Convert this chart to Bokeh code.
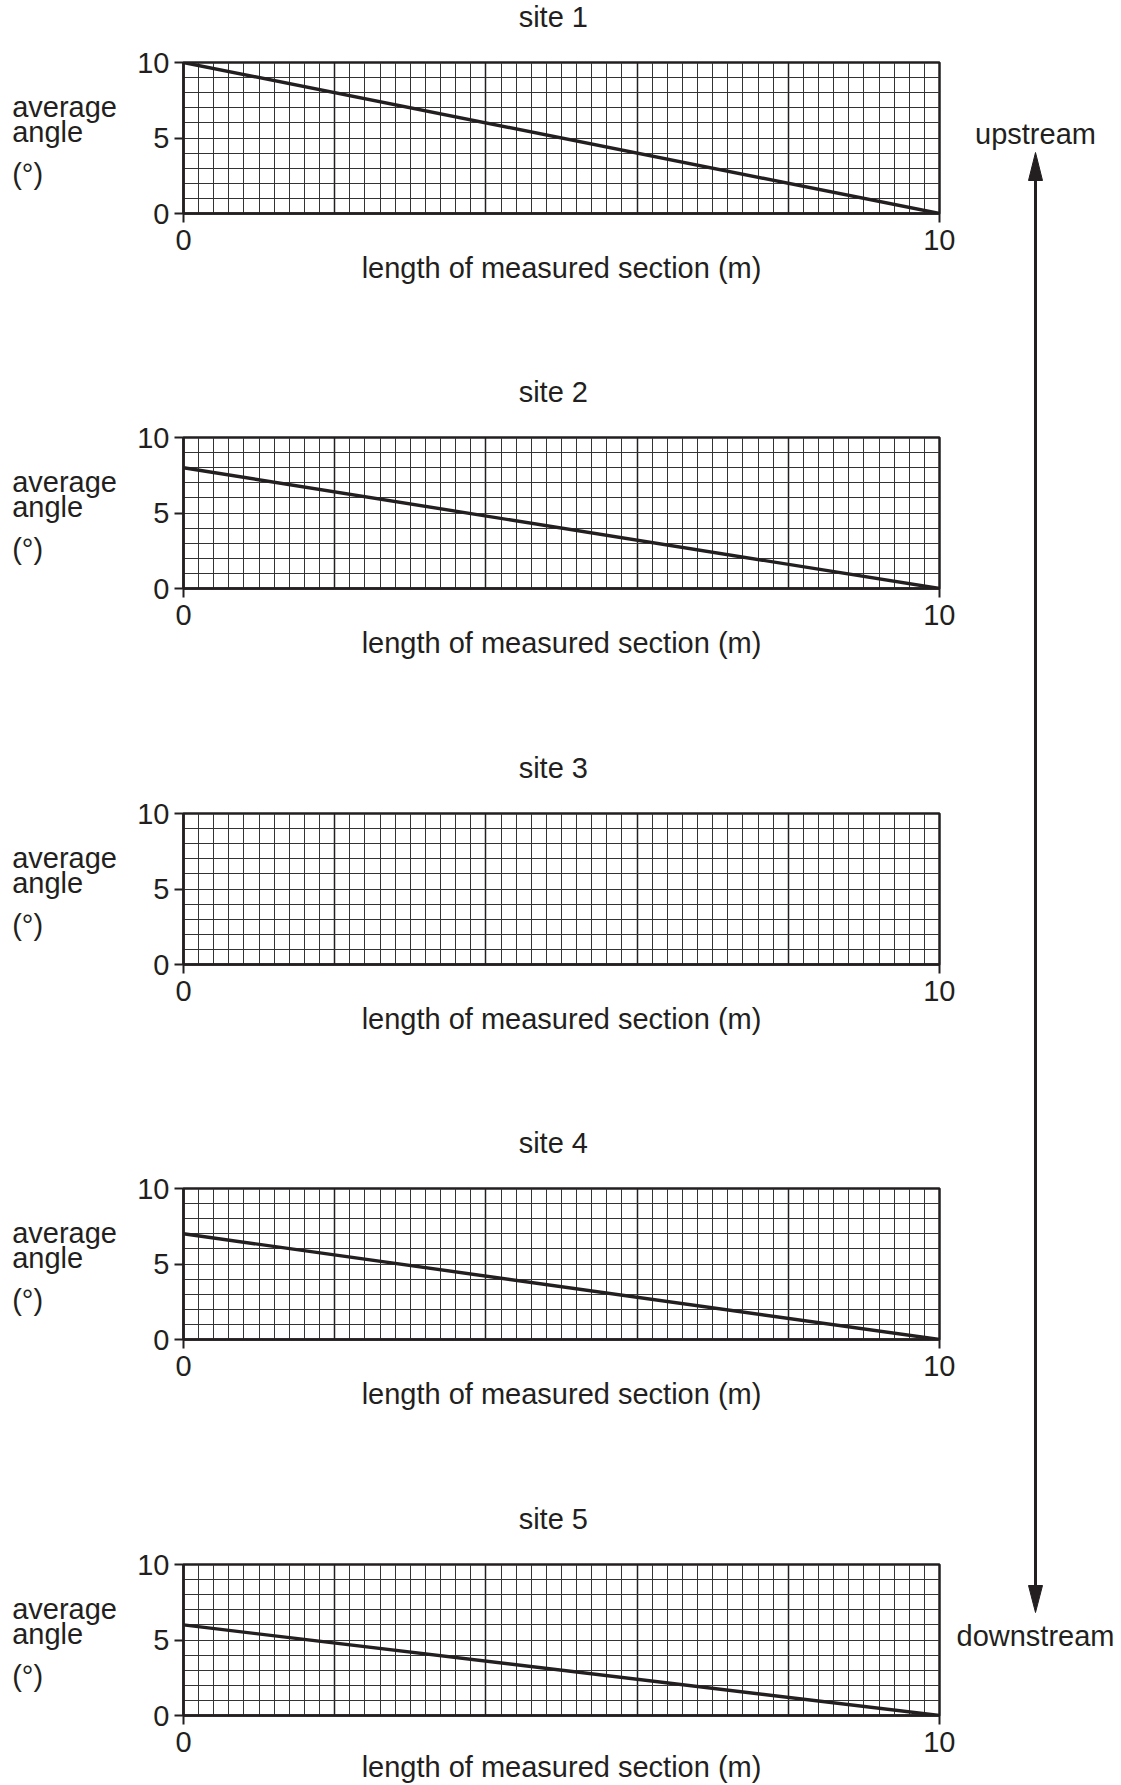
from bokeh.plotting import figure
from bokeh.models import Range1d, FixedTicker
from bokeh.layouts import row, column
from bokeh.embed import file_html
from bokeh.resources import INLINE
from bokeh.core.properties import value

# ---------------- data ----------------
site_names = ["site 1", "site 2", "site 3", "site 4", "site 5"]
line_x = [0, 10]
site1_angle = [10, 0]
site2_angle = [8, 0]
site3_angle = []          # blank grid (to be completed)
site4_angle = [7, 0]
site5_angle = [6, 0]
site_angles = [site1_angle, site2_angle, site3_angle, site4_angle, site5_angle]

x_tick_values = [0, 10]
y_tick_values = [0, 5, 10]
x_major_grid = [0, 2, 4, 6, 8, 10]
x_minor_grid = [i / 5 for i in range(51) if i % 10 != 0]
y_grid = list(range(0, 11))

x_axis_title = "length of measured section (m)"
y_axis_title = ["average", "angle", "(°)"]
arrow_labels = ["upstream", "downstream"]

# ---------------- style / layout ----------------
INK = "#231f20"
FONT = "Liberation Sans"
FS = "29px"
PAGE_W = 1121
LEFT_W = 125          # width of the column holding the y-axis title
PLOT_W = 830          # width of each chart figure
FL_IN = 58            # chart figure left border -> frame at 183 px
FW, FH = 756, 151     # frame width / height
FT = 62               # frame top inside each site band
TITLE_H = 40
TXT_DY = -8           # baseline correction for text glyphs
heights = [375, 376, 375, 376, 283]
label_standoffs = [-1, -1, -1, -1, -4]
TOTAL_H = sum(heights)


def text_fig(w, h, x0):
    f = figure(width=w, height=h, x_range=Range1d(x0, x0 + w), y_range=Range1d(h, 0),
               toolbar_location=None, output_backend="svg", min_border=0,
               x_axis_location=None, y_axis_location=None)
    f.outline_line_color = None
    f.xgrid.visible = False
    f.ygrid.visible = False
    return f


text_style = dict(text_font=value(FONT), text_font_size=FS, text_color=INK,
                  text_baseline="alphabetic")

rows = []
for name, ys, h, lso in zip(site_names, site_angles, heights, label_standoffs):
    # y-axis title (horizontal, left aligned, three lines)
    lf = text_fig(LEFT_W, h, 0)
    lf.text(x=[11.7] * 3, y=[FT + 52 + TXT_DY, FT + 77 + TXT_DY, FT + 119 + TXT_DY],
            text=y_axis_title, text_align="left", **text_style)

    # site title
    tf = text_fig(PLOT_W, TITLE_H, LEFT_W)
    tf.text(x=[531], y=[24 + TXT_DY], text=[name], text_align="center", **text_style)

    ph = h - TITLE_H
    top_b = FT - TITLE_H
    p = figure(width=PLOT_W, height=ph, x_range=Range1d(0, 10), y_range=Range1d(0, 10),
               toolbar_location=None, output_backend="svg",
               min_border_left=FL_IN, min_border_right=PLOT_W - FL_IN - FW,
               min_border_top=top_b, min_border_bottom=ph - top_b - FH)
    p.outline_line_color = INK
    p.outline_line_width = 2.5

    p.xaxis.ticker = FixedTicker(ticks=x_tick_values)
    p.yaxis.ticker = FixedTicker(ticks=y_tick_values)
    for ax in p.axis:
        ax.major_tick_in = 0
        ax.major_tick_out = 9
        ax.minor_tick_in = 0
        ax.minor_tick_out = 0
        ax.axis_line_color = INK
        ax.axis_line_width = 2.5
        ax.major_tick_line_color = INK
        ax.major_tick_line_width = 2
        ax.major_label_text_font = FONT
        ax.major_label_text_font_size = FS
        ax.major_label_text_color = INK
    p.xaxis.major_label_standoff = 7
    p.yaxis.major_label_standoff = 5
    p.xaxis.axis_label = x_axis_title
    p.xaxis.axis_label_text_font = FONT
    p.xaxis.axis_label_text_font_size = FS
    p.xaxis.axis_label_text_font_style = "normal"
    p.xaxis.axis_label_text_color = INK
    p.xaxis.axis_label_standoff = lso

    p.xgrid.ticker = FixedTicker(ticks=x_major_grid, minor_ticks=x_minor_grid)
    p.xgrid.grid_line_color = INK
    p.xgrid.grid_line_width = 1.5
    p.xgrid.minor_grid_line_color = "#333333"
    p.xgrid.minor_grid_line_width = 1
    p.ygrid.ticker = FixedTicker(ticks=y_grid)
    p.ygrid.grid_line_color = "#333333"
    p.ygrid.grid_line_width = 1

    if ys:
        p.line(line_x, ys, line_width=3.4, line_color=INK)

    rows.append(row(lf, column(tf, p)))

# ---------------- direction arrow ----------------
X0 = LEFT_W + PLOT_W
AX = 1035
UP_TIP, UP_BASE = 152, 180
DN_TIP, DN_BASE = 1612, 1585
HEAD_HALF = 7

fa = text_fig(PAGE_W - X0, TOTAL_H, X0)
fa.segment(x0=[AX], y0=[UP_BASE - 2], x1=[AX], y1=[DN_BASE + 2], line_width=3, line_color=INK)
fa.patches(xs=[[AX, AX - HEAD_HALF, AX + HEAD_HALF], [AX, AX - HEAD_HALF, AX + HEAD_HALF]],
           ys=[[UP_TIP, UP_BASE, UP_BASE], [DN_TIP, DN_BASE, DN_BASE]],
           fill_color=INK, line_color=INK, line_width=1)
fa.text(x=[1035, 1035], y=[141.7 + TXT_DY, 1643.3 + TXT_DY], text=arrow_labels,
        text_align="center", **text_style)

layout = row(column(*rows), fa)
with open("out.html", "w", encoding="utf-8") as f:
    f.write(file_html(layout, INLINE))
